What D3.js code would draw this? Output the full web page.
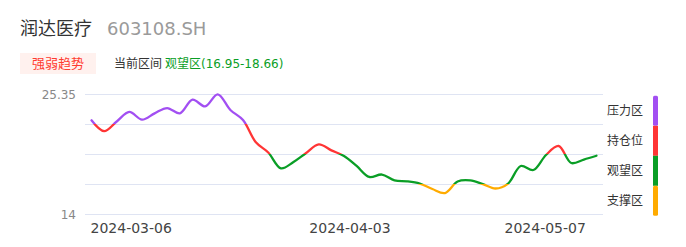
<!DOCTYPE html>
<html><head><meta charset="utf-8">
<script src="https://cdn.jsdelivr.net/npm/d3@7"></script>
<style>
html,body{margin:0;padding:0;background:#fff;}
svg{display:block;font-family:"DejaVu Sans","Noto Sans CJK SC",sans-serif;}
</style></head>
<body>
<svg id="c" width="686" height="247"></svg>
<script>
// ---- data ----
const stockName = "润达医疗";
const stockCode = "603108.SH";
const badgeLabel = "强弱趋势";
const currentLabel = "当前区间";
const currentZone = "观望区(16.95-18.66)";
const dates = ["2024-03-06","2024-03-07","2024-03-08","2024-03-11","2024-03-12","2024-03-13","2024-03-14","2024-03-15",
"2024-03-18","2024-03-19","2024-03-20","2024-03-21","2024-03-22","2024-03-25","2024-03-26","2024-03-27","2024-03-28","2024-03-29",
"2024-04-01","2024-04-02","2024-04-03","2024-04-08","2024-04-09","2024-04-10","2024-04-11","2024-04-12","2024-04-15","2024-04-16",
"2024-04-17","2024-04-18","2024-04-19","2024-04-22","2024-04-23","2024-04-24","2024-04-25","2024-04-26","2024-04-29","2024-04-30",
"2024-05-06","2024-05-07","2024-05-08"];
const prices = [22.89,21.86,22.78,23.68,22.95,23.55,24.05,23.55,24.84,24.21,25.35,23.87,22.92,20.84,19.85,18.35,18.95,19.80,
20.62,20.05,19.51,18.57,17.53,17.76,17.20,17.12,16.91,16.39,16.01,17.10,17.20,16.85,16.44,16.91,18.57,18.19,19.61,20.46,
18.85,19.18,19.54];
const yMin = 14, yMax = 25.35;
const yTickLabels = ["14","25.35"];
const xTickDates = ["2024-03-06","2024-04-03","2024-05-07"];
const zoneNames = ["压力区","持仓位","观望区","支撑区"];
const zoneColors = ["#a24ff2","#ff3535","#0a9e26","#ffab00"];

// ---- layout ----
const svg = d3.select("#c");
const x = d3.scalePoint().domain(dates).range([91.5, 596.5]);
const y = d3.scaleLinear().domain([yMin, yMax]).range([214.3, 94.3]);
const gridVals = d3.range(5).map(i => yMin + i * (yMax - yMin) / 4);
const zoneBounds = zoneNames.map((_, i) => [gridVals[4 - i], gridVals[3 - i]]);

// header
svg.append("text").attr("x", 20).attr("y", 35).attr("font-size", 18).attr("fill", "#333").text(stockName);
svg.append("text").attr("x", 107).attr("y", 35).attr("font-size", 18).attr("fill", "#9a9a9a").text(stockCode);
svg.append("rect").attr("x", 20).attr("y", 53).attr("width", 76).attr("height", 21).attr("fill", "#fff1ee");
svg.append("text").attr("x", 58).attr("y", 68).attr("text-anchor", "middle").attr("font-size", 13).attr("fill", "#ff3b30").text(badgeLabel);
svg.append("text").attr("x", 114).attr("y", 68).attr("font-size", 12).attr("fill", "#333").text(currentLabel);
svg.append("text").attr("x", 165).attr("y", 68).attr("font-size", 12).attr("fill", "#0a9e26").text(currentZone);

// grid
svg.append("g").selectAll("line").data(gridVals).join("line")
  .attr("x1", 85).attr("x2", 603)
  .attr("y1", d => Math.round(y(d)) + 0.5).attr("y2", d => Math.round(y(d)) + 0.5)
  .attr("stroke", "#dfe4f3").attr("stroke-width", 1);

// y labels
svg.append("g").selectAll("text").data(yTickLabels).join("text")
  .attr("x", 76).attr("y", d => y(+d)).attr("dy", "0.35em")
  .attr("text-anchor", "end").attr("font-size", 12).attr("fill", "#888").text(d => d);

// x labels
const anchors = ["start", "middle", "end"];
svg.append("g").selectAll("text").data(xTickDates).join("text")
  .attr("x", (d, i) => x(d) + (i === 0 ? -1 : i === 2 ? 2 : 6))
  .attr("y", 228).attr("dy", "0.35em")
  .attr("text-anchor", (d, i) => anchors[i]).attr("font-size", 14).attr("fill", "#444").text(d => d);

// gradient by zone
const defs = svg.append("defs");
const grad = defs.append("linearGradient").attr("id", "zg").attr("gradientUnits", "userSpaceOnUse")
  .attr("x1", 0).attr("x2", 0).attr("y1", y(yMax)).attr("y2", y(yMin));
zoneBounds.forEach((b, i) => {
  const o1 = (yMax - b[0]) / (yMax - yMin), o2 = (yMax - b[1]) / (yMax - yMin);
  grad.append("stop").attr("offset", o1).attr("stop-color", zoneColors[i]);
  grad.append("stop").attr("offset", o2).attr("stop-color", zoneColors[i]);
});

const line = d3.line().x((d, i) => x(dates[i])).y(d => y(d)).curve(d3.curveCatmullRom.alpha(0.5));
svg.append("path").datum(prices).attr("d", line)
  .attr("fill", "none").attr("stroke", "url(#zg)").attr("stroke-width", 2.3)
  .attr("stroke-linejoin", "round").attr("stroke-linecap", "round");

// legend
const lg = svg.append("g");
zoneNames.forEach((n, i) => {
  const yt = y(zoneBounds[i][0]) + 1.5, yb = y(zoneBounds[i][1]) + 1.5;
  lg.append("rect").attr("x", 653).attr("y", yt).attr("width", 5).attr("height", yb - yt)
    .attr("fill", zoneColors[i]).attr("rx", i === 0 || i === 3 ? 1.5 : 0);
  lg.append("text").attr("x", 607).attr("y", (yt + yb) / 2).attr("dy", "0.35em")
    .attr("font-size", 12).attr("fill", "#333").text(n);
});
</script>
</body></html>
